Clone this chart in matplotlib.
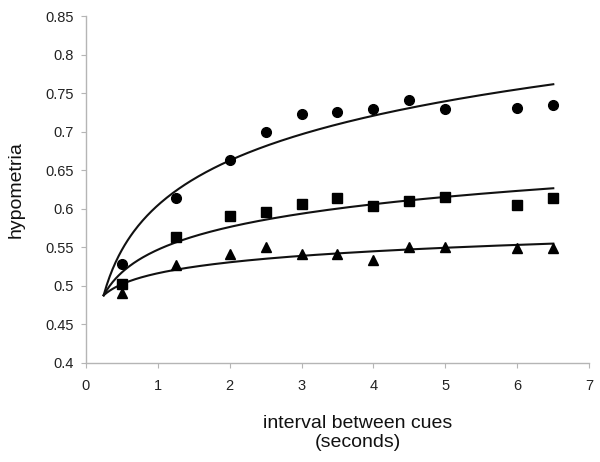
import numpy as np
import matplotlib
matplotlib.use("Agg")
import matplotlib.pyplot as plt

plt.rcParams['font.family'] = ['Liberation Sans', 'DejaVu Sans']

intervals = [0.5, 1.25, 2, 2.5, 3, 3.5, 4, 4.5, 5, 6, 6.5]
circles = [0.529, 0.614, 0.663, 0.700, 0.724, 0.726, 0.730, 0.741, 0.730, 0.731, 0.735]
squares = [0.503, 0.563, 0.591, 0.596, 0.606, 0.614, 0.604, 0.611, 0.615, 0.605, 0.614]
triangles = [0.491, 0.527, 0.542, 0.550, 0.542, 0.542, 0.534, 0.551, 0.550, 0.549, 0.549]

# logarithmic trendlines (y = a + b*ln x)
trend_circles = (0.6046, 0.0841)
trend_squares = (0.547, 0.0427)
trend_triangles = (0.5165, 0.0206)
trend_start, trend_end = 0.25, 6.5

fig = plt.figure(figsize=(6.0, 4.62), dpi=100)
ax = fig.add_axes([0.1428, 0.2143, 0.8393, 0.75])

xs = np.linspace(trend_start, trend_end, 300)
for (a, b) in (trend_circles, trend_squares, trend_triangles):
    ax.plot(xs, a + b * np.log(xs), color='#111111', lw=1.5, zorder=2)

ax.plot(intervals, circles, 'o', color='black', ms=7, zorder=3)
ax.plot(intervals, squares, 's', color='black', ms=6.5, zorder=3)
ax.plot(intervals, triangles, '^', color='black', ms=6.5, zorder=3)

ax.set_xlim(0, 7)
ax.set_ylim(0.4, 0.85)
ax.set_xticks(range(0, 8))
ax.set_xticklabels([str(i) for i in range(0, 8)])
yt = [0.4, 0.45, 0.5, 0.55, 0.6, 0.65, 0.7, 0.75, 0.8, 0.85]
ax.set_yticks(yt)
ax.set_yticklabels(['0.4', '0.45', '0.5', '0.55', '0.6', '0.65', '0.7', '0.75', '0.8', '0.85'])

for s in ('top', 'right'):
    ax.spines[s].set_visible(False)
for s in ('left', 'bottom'):
    ax.spines[s].set_color('#b5b5b5')
    ax.spines[s].set_linewidth(1.0)
ax.tick_params(axis='both', direction='out', length=3.6, color='#b5b5b5',
               labelsize=10.5, labelcolor='#222222')
ax.tick_params(axis='y', pad=5)
ax.tick_params(axis='x', pad=8)

ax.set_ylabel('hypometria', fontsize=14, color='#111111')
ax.yaxis.set_label_coords(-0.122, 0.5)
ax.set_xlabel('interval between cues\n(seconds)', fontsize=14, color='#111111',
              linespacing=1.2)
ax.xaxis.set_label_coords(0.5406, -0.149)
ax.xaxis.label.set_verticalalignment('top')

fig.savefig('out.png', dpi=100)
